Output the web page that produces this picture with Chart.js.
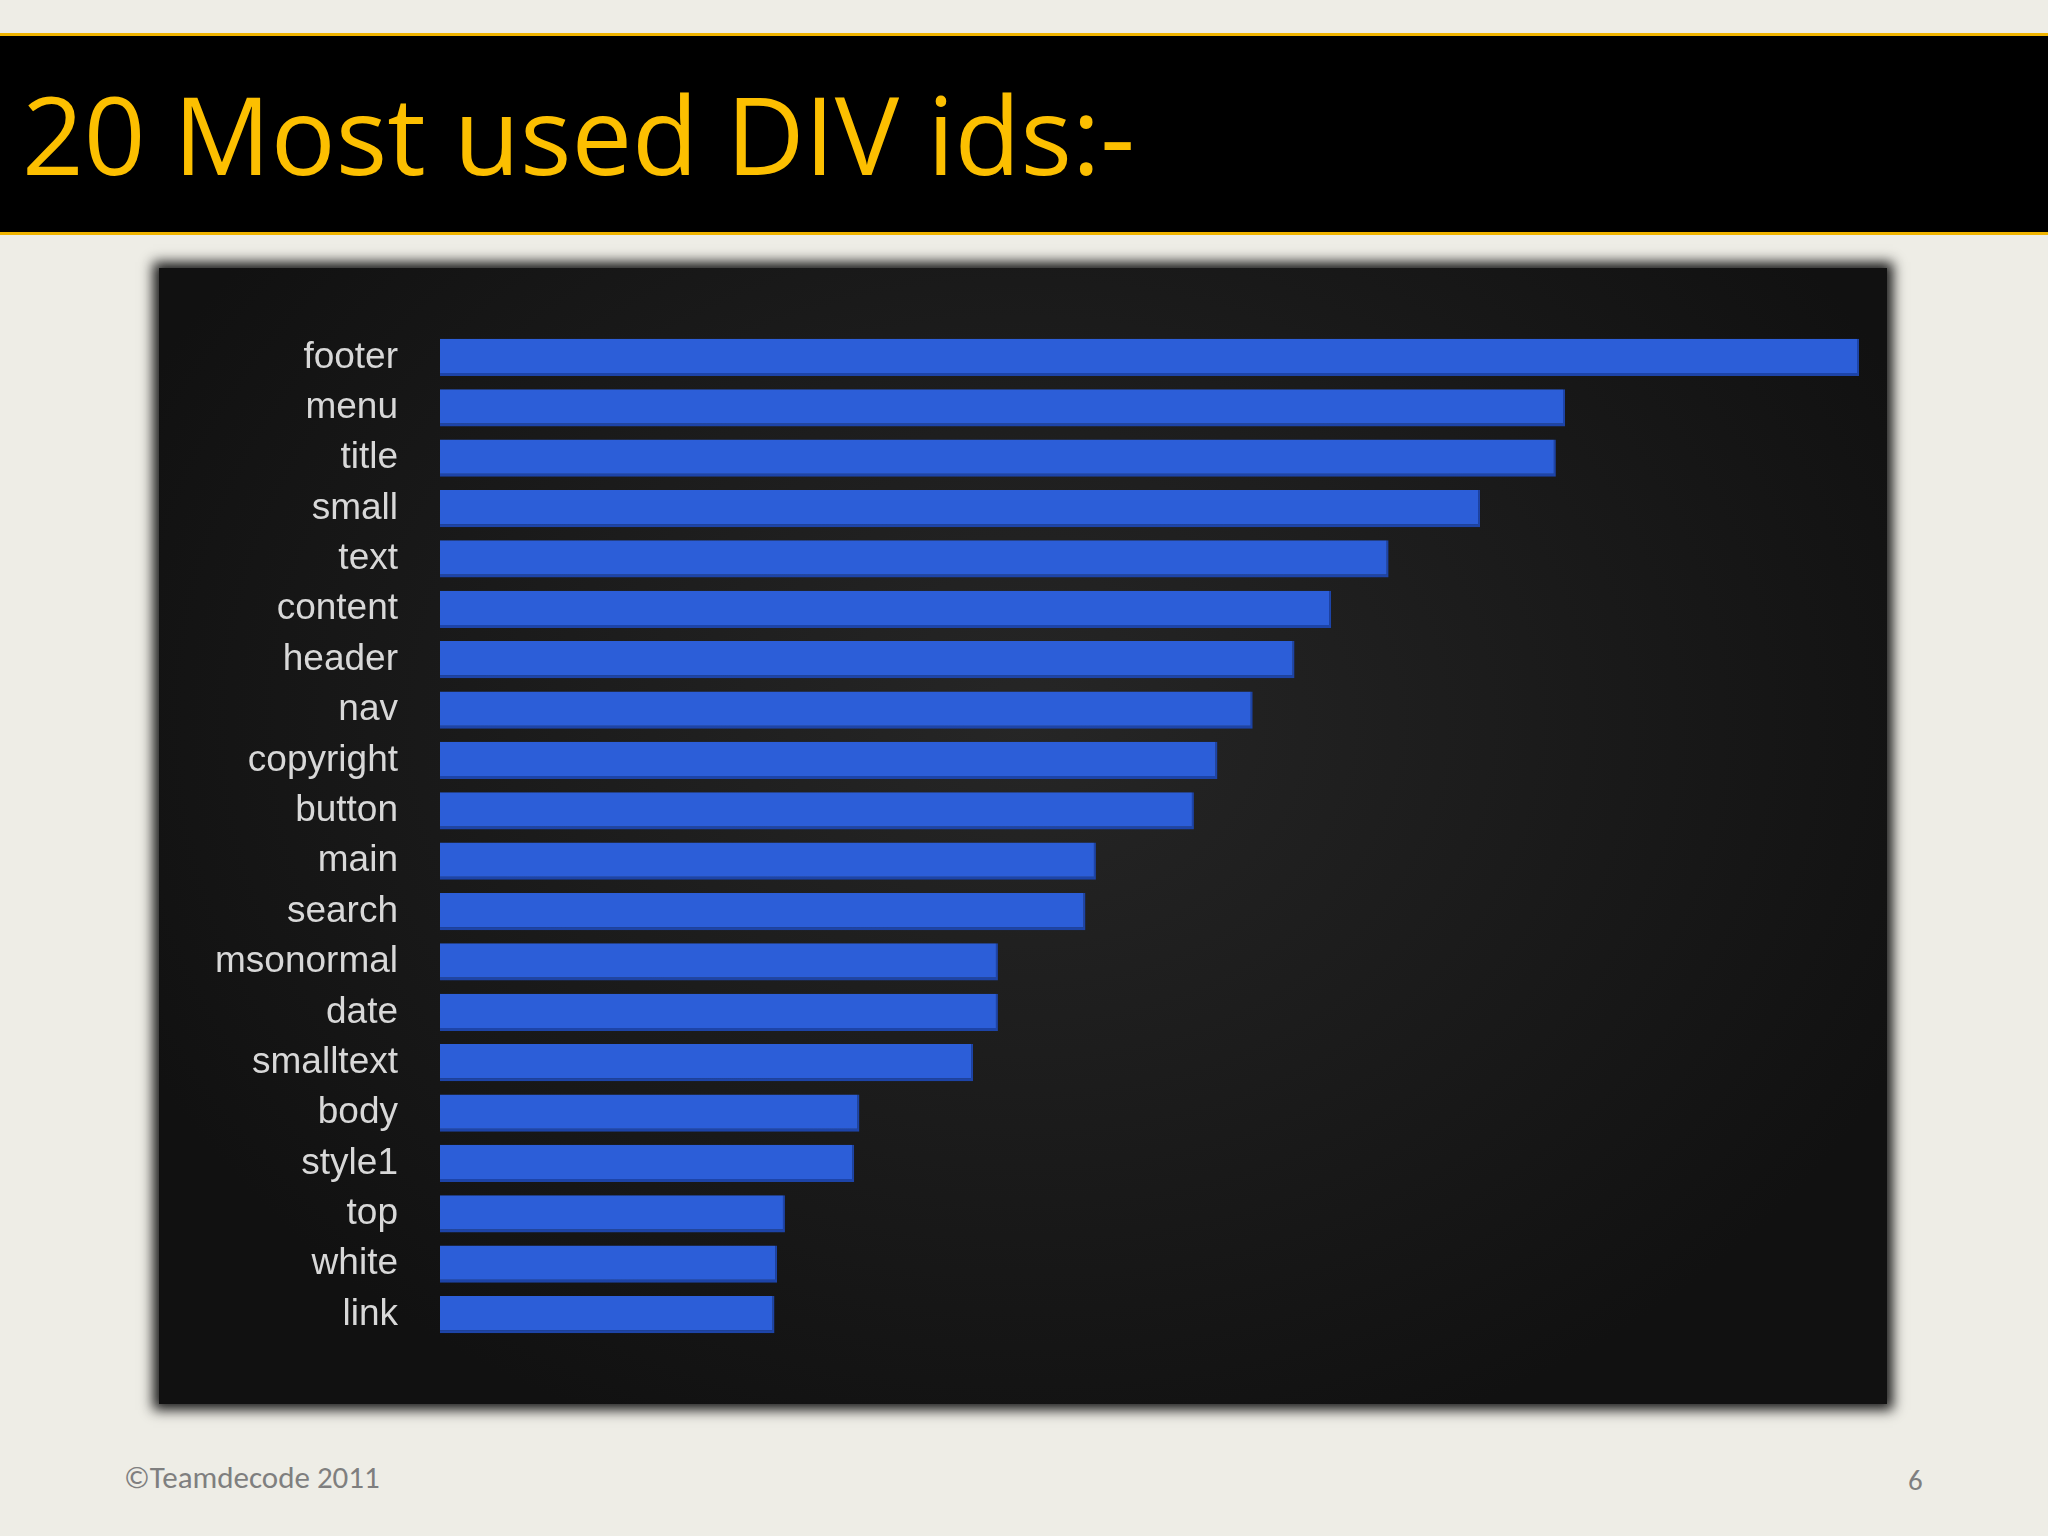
<!DOCTYPE html>
<html><head><meta charset="utf-8">
<script src="https://cdn.jsdelivr.net/npm/chart.js@4"></script>
<style>
body{margin:0;width:2048px;height:1536px;background:#eeede6;position:relative;overflow:hidden;font-family:Calibri,"Open Sans","Liberation Sans",sans-serif}
#hdr{position:absolute;left:0;top:33px;width:2048px;height:196px;background:#000;border-top:3px solid #f0b400;border-bottom:3px solid #f0b400}
#title{position:absolute;left:22px;top:36px;font-size:108px;color:#fcbf00;font-family:"Open Sans",sans-serif;line-height:196px;margin:0;white-space:nowrap}
#panel{position:absolute;left:159px;top:268px;width:1728px;height:1136px;background:radial-gradient(ellipse at 50% 40%,#262626,#111 80%);box-shadow:0 0 12px 6px #1a1a1a}
#foot{position:absolute;left:124px;top:1458px;font-size:31px;color:#7f7f7f}
#num{position:absolute;left:1908px;top:1462px;font-size:29px;color:#7f7f7f}
</style></head><body>
<div id="hdr"></div>
<div id="title">20 Most used DIV ids:-</div>
<div id="panel"><canvas id="c" width="1728" height="1136"></canvas></div>
<div id="foot">©Teamdecode 2011</div>
<div id="num">6</div>
<script>
const categories=["footer","menu","title","small","text","content","header","nav","copyright","button","main","search","msonormal","date","smalltext","body","style1","top","white","link"];
const values=[1086,861,854,796,726,682,654,622,595,577,502,494,427,427,408,321,317,264,258,256];
const ctx=document.getElementById('c').getContext('2d');
new Chart(ctx,{type:'bar',
data:{labels:categories,datasets:[{data:values,
 backgroundColor:'#2c5ed8',
 borderColor:'#1d44a8',borderWidth:{top:0,bottom:3,left:0,right:2},borderSkipped:false,
 barPercentage:0.74,categoryPercentage:1}]},
options:{indexAxis:'y',responsive:false,animation:false,
 layout:{padding:{top:-11,bottom:-5,right:28,left:0}},
 plugins:{legend:{display:false},tooltip:{enabled:false}},
 scales:{x:{display:false,min:0,max:1086},
  y:{grid:{display:false,drawTicks:false},border:{display:false},
   afterFit:(s)=>{s.width=281;},
   ticks:{padding:42,color:'#d8d8d8',font:{size:37,family:'"Liberation Sans",Arial,sans-serif'}}}}}});
</script></body></html>
